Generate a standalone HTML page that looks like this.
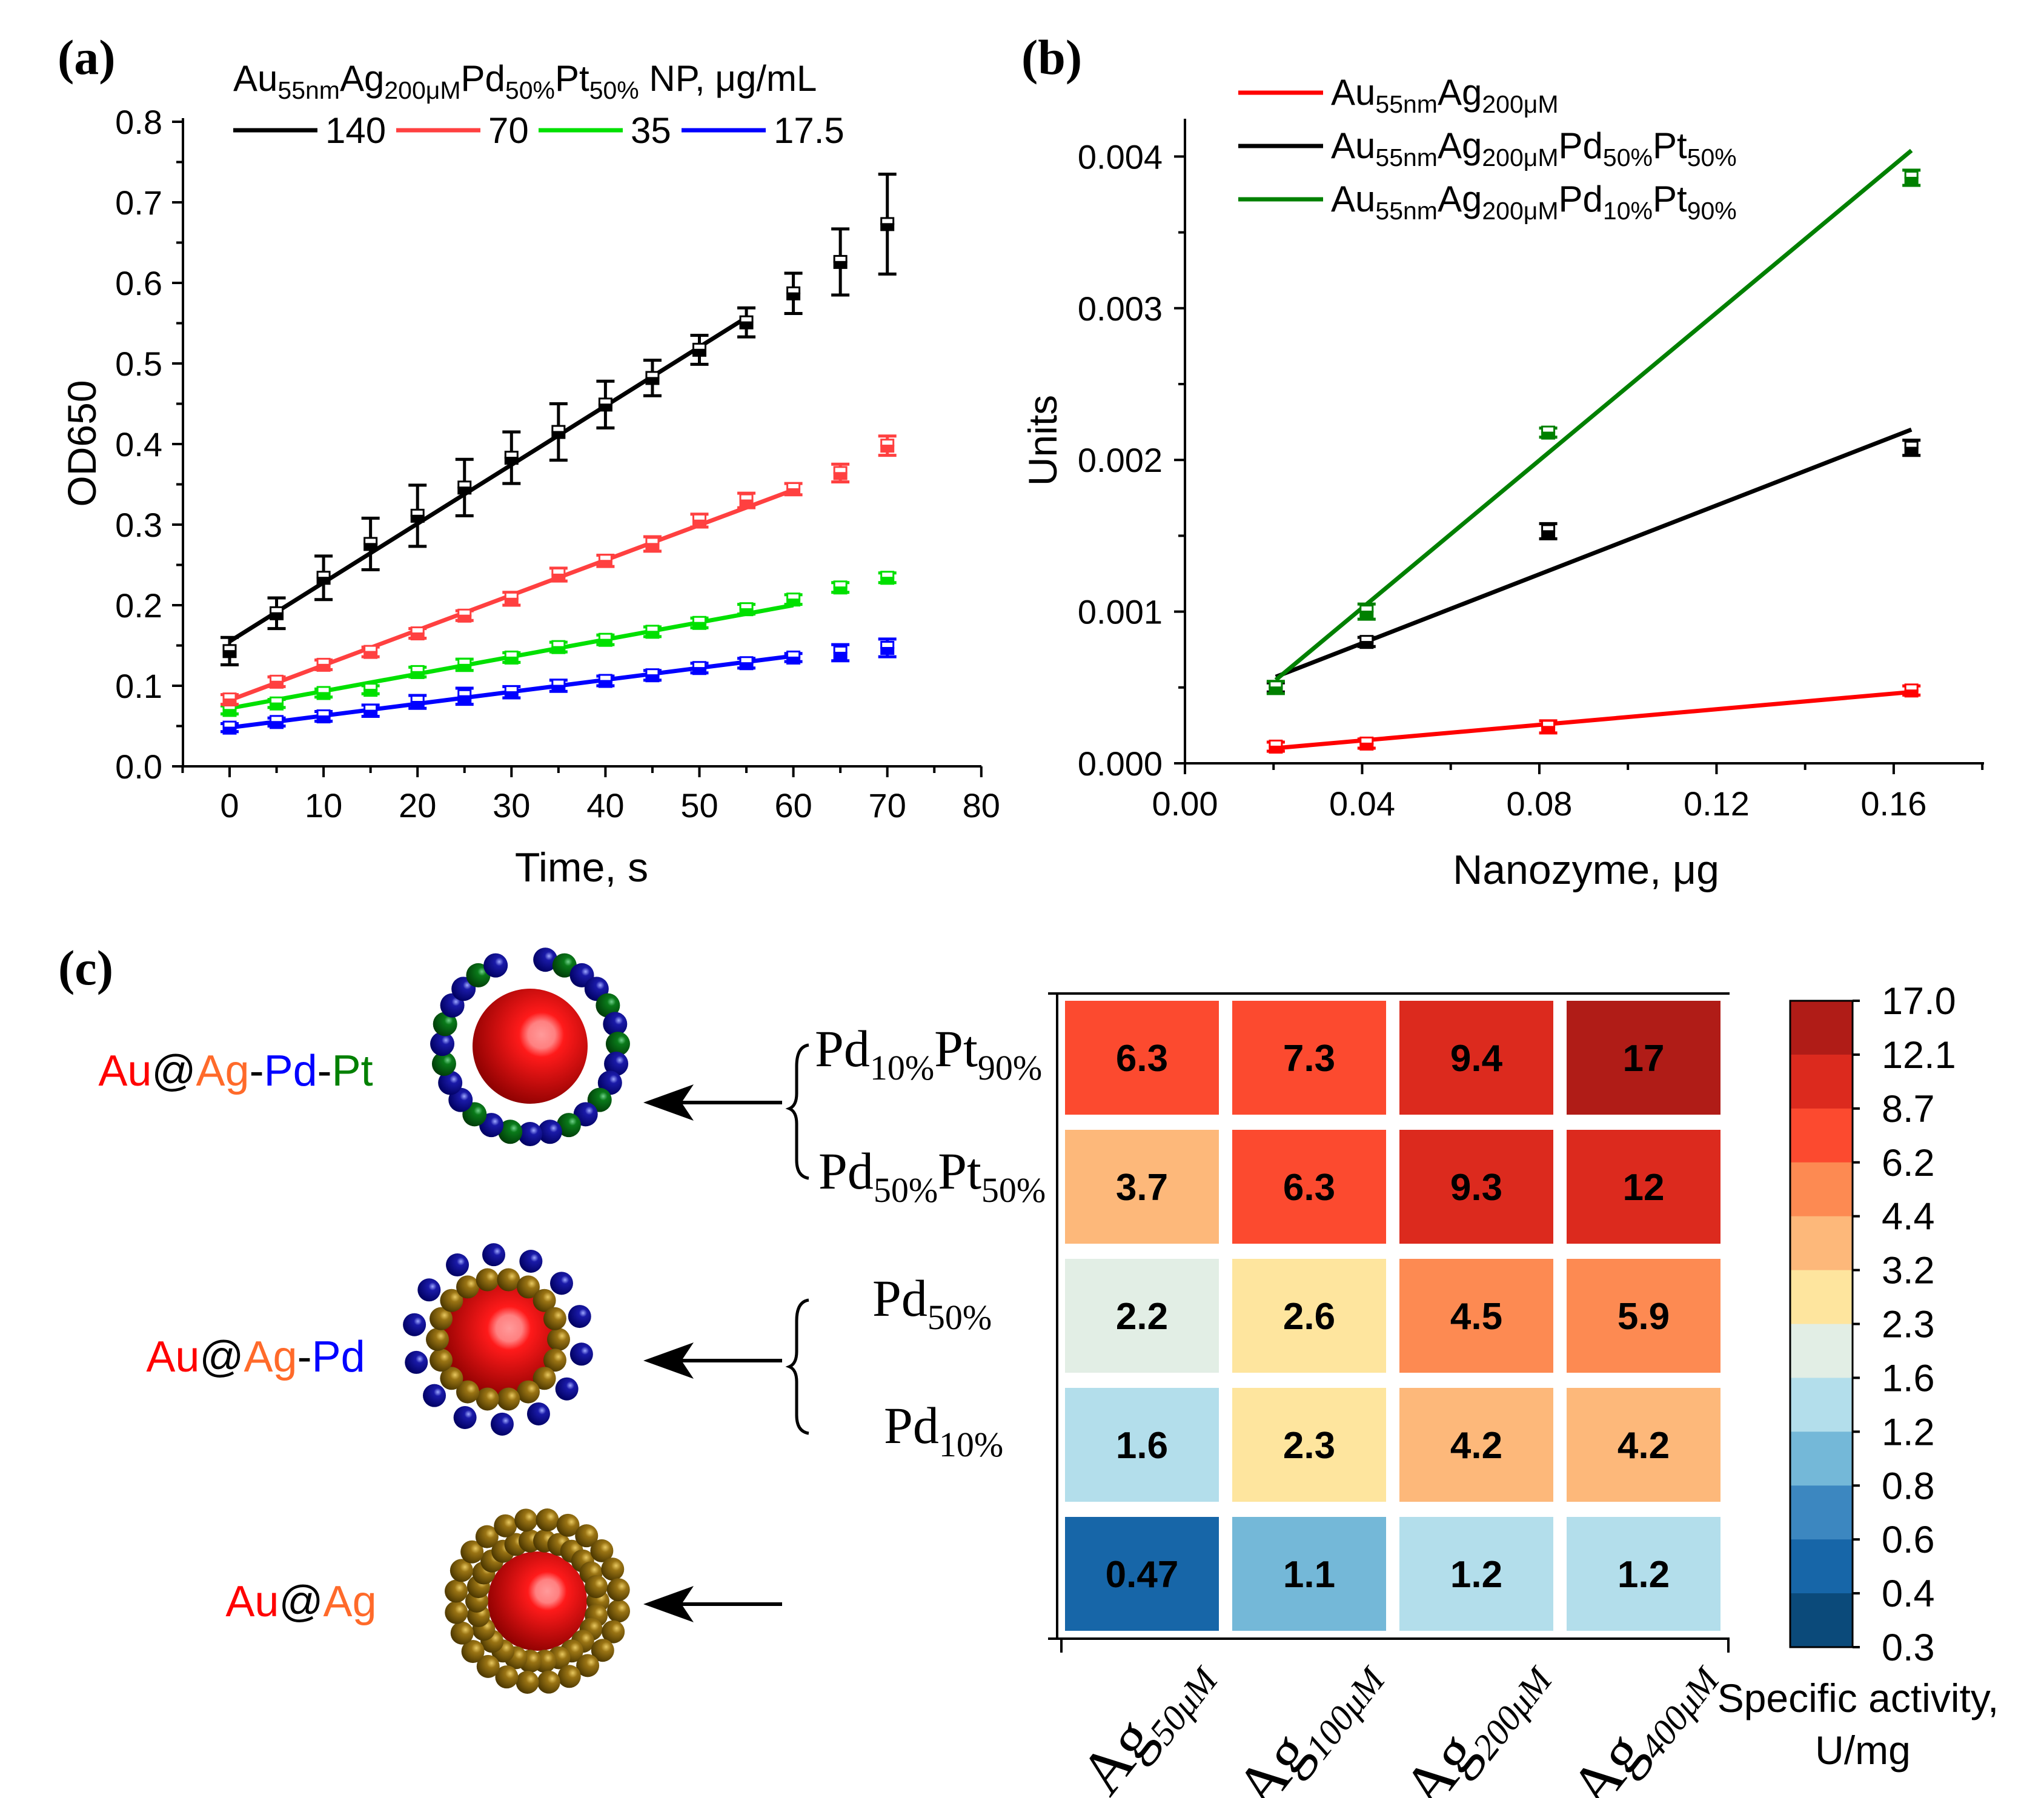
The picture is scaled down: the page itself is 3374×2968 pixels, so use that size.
<!DOCTYPE html>
<html><head><meta charset="utf-8"><style>
html,body{margin:0;padding:0;background:#fff;}
svg{display:block;font-family:"Liberation Sans",sans-serif;}
.serif{font-family:"Liberation Serif",serif;}
</style></head><body>
<svg id="fig" width="3374" height="2968" viewBox="0 0 3374 2968" xmlns="http://www.w3.org/2000/svg">
<defs>
<radialGradient id="gRed" cx="0.6" cy="0.4" r="0.65"><stop offset="0" stop-color="#ff9a9a"/><stop offset="0.18" stop-color="#ff8080"/><stop offset="0.3" stop-color="#ff1a1a"/><stop offset="1" stop-color="#8a0000"/></radialGradient>
<radialGradient id="gBlue" cx="0.65" cy="0.35" r="0.7"><stop offset="0" stop-color="#9ea8ff"/><stop offset="0.25" stop-color="#1a1aa8"/><stop offset="1" stop-color="#000060"/></radialGradient>
<radialGradient id="gGreen" cx="0.65" cy="0.35" r="0.7"><stop offset="0" stop-color="#6fd08a"/><stop offset="0.25" stop-color="#0a7a1a"/><stop offset="1" stop-color="#003a08"/></radialGradient>
<radialGradient id="gGold" cx="0.65" cy="0.35" r="0.7"><stop offset="0" stop-color="#e8c860"/><stop offset="0.3" stop-color="#9a7414"/><stop offset="1" stop-color="#4a3600"/></radialGradient>
</defs>

<text class="serif" x="95" y="122" font-size="82" font-weight="bold">(a)</text>
<text class="serif" x="1686" y="122" font-size="82" font-weight="bold">(b)</text>
<text class="serif" x="96" y="1625" font-size="82" font-weight="bold">(c)</text>

<g id="panelA">
<text x="385" y="150" font-size="60">Au<tspan font-size="41" dy="13">55nm</tspan><tspan dy="-13">Ag</tspan><tspan font-size="41" dy="13">200μM</tspan><tspan dy="-13">Pd</tspan><tspan font-size="41" dy="13">50%</tspan><tspan dy="-13">Pt</tspan><tspan font-size="41" dy="13">50%</tspan><tspan dy="-13"> NP, μg/mL</tspan></text>
<text x="135" y="732" font-size="66" text-anchor="middle" transform="rotate(-90 135 732)" dy="23">OD650</text>
<text x="960" y="1455" font-size="68" text-anchor="middle">Time, s</text>
</g>

<g id="panelB">
<text x="1721" y="727" font-size="66" text-anchor="middle" transform="rotate(-90 1721 727)" dy="23">Units</text>
<text x="2618" y="1459" font-size="68" text-anchor="middle">Nanozyme, μg</text>
<g>
<line x1="2044" y1="153" x2="2184" y2="153" stroke="#ff0000" stroke-width="7"/>
<text x="2197" y="173" font-size="60">Au<tspan font-size="41" dy="13">55nm</tspan><tspan dy="-13">Ag</tspan><tspan font-size="41" dy="13">200μM</tspan></text>
<line x1="2044" y1="241" x2="2184" y2="241" stroke="#000" stroke-width="7"/>
<text x="2197" y="261" font-size="60">Au<tspan font-size="41" dy="13">55nm</tspan><tspan dy="-13">Ag</tspan><tspan font-size="41" dy="13">200μM</tspan><tspan dy="-13">Pd</tspan><tspan font-size="41" dy="13">50%</tspan><tspan dy="-13">Pt</tspan><tspan font-size="41" dy="13">50%</tspan></text>
<line x1="2044" y1="329" x2="2184" y2="329" stroke="#008000" stroke-width="7"/>
<text x="2197" y="349" font-size="60">Au<tspan font-size="41" dy="13">55nm</tspan><tspan dy="-13">Ag</tspan><tspan font-size="41" dy="13">200μM</tspan><tspan dy="-13">Pd</tspan><tspan font-size="41" dy="13">10%</tspan><tspan dy="-13">Pt</tspan><tspan font-size="41" dy="13">90%</tspan></text>
</g>
</g>

<g id="particles"></g>
<g font-size="72">
<text x="389" y="1792" text-anchor="middle"><tspan fill="#ff0000">Au</tspan><tspan fill="#000">@</tspan><tspan fill="#ff6a2a">Ag</tspan><tspan fill="#000">-</tspan><tspan fill="#0000ff">Pd</tspan><tspan fill="#000">-</tspan><tspan fill="#008000">Pt</tspan></text>
<text x="422" y="2264" text-anchor="middle"><tspan fill="#ff0000">Au</tspan><tspan fill="#000">@</tspan><tspan fill="#ff6a2a">Ag</tspan><tspan fill="#000">-</tspan><tspan fill="#0000ff">Pd</tspan></text>
<text x="497" y="2668" text-anchor="middle"><tspan fill="#ff0000">Au</tspan><tspan fill="#000">@</tspan><tspan fill="#ff6a2a">Ag</tspan></text>
</g>
<g>
<line x1="1291" y1="1820" x2="1110" y2="1820" stroke="#000" stroke-width="6"/><path d="M1062 1820 L1145 1790 L1125 1820 L1145 1850 Z" fill="#000"/>
<line x1="1291" y1="2246" x2="1110" y2="2246" stroke="#000" stroke-width="6"/><path d="M1062 2246 L1145 2216 L1125 2246 L1145 2276 Z" fill="#000"/>
<line x1="1291" y1="2648" x2="1110" y2="2648" stroke="#000" stroke-width="6"/><path d="M1062 2648 L1145 2618 L1125 2648 L1145 2678 Z" fill="#000"/>
</g>
<g fill="none" stroke="#000" stroke-width="5">
<path d="M1335 1725 Q1315 1728 1315 1760 L1315 1805 Q1315 1825 1303 1830 Q1315 1835 1315 1855 L1315 1915 Q1315 1942 1335 1945"/>
<path d="M1335 2146 Q1315 2149 1315 2180 L1315 2231 Q1315 2251 1303 2256 Q1315 2261 1315 2281 L1315 2336 Q1315 2363 1335 2366"/>
</g>
<g class="serif" font-size="86">
<text x="1345" y="1760">Pd<tspan font-size="58" dy="22">10%</tspan><tspan dy="-22">Pt</tspan><tspan font-size="58" dy="22">90%</tspan></text>
<text x="1351" y="1962">Pd<tspan font-size="58" dy="22">50%</tspan><tspan dy="-22">Pt</tspan><tspan font-size="58" dy="22">50%</tspan></text>
<text x="1440" y="2172">Pd<tspan font-size="58" dy="22">50%</tspan></text>
<text x="1459" y="2382">Pd<tspan font-size="58" dy="22">10%</tspan></text>
</g>
<g id="heatmap"></g>
<text x="3067" y="2826" font-size="66" text-anchor="middle">Specific activity,</text>
<text x="3075" y="2912" font-size="66" text-anchor="middle">U/mg</text>
</svg>
<script>
const timeA = [0,5,10,15,20,25,30,35,40,45,50,55,60,65,70];
const od140 = [0.143,0.19,0.234,0.276,0.311,0.346,0.383,0.415,0.449,0.482,0.517,0.551,0.587,0.626,0.673];
const err140 = [0.017,0.019,0.027,0.032,0.038,0.035,0.032,0.035,0.029,0.022,0.018,0.018,0.025,0.041,0.062];
const od70 = [0.083,0.105,0.126,0.142,0.165,0.187,0.208,0.238,0.255,0.276,0.305,0.33,0.344,0.364,0.398];
const err70 = [0.006,0.006,0.006,0.006,0.006,0.006,0.008,0.008,0.007,0.009,0.008,0.009,0.007,0.011,0.012];
const od35 = [0.07,0.078,0.091,0.095,0.117,0.126,0.135,0.148,0.157,0.167,0.178,0.195,0.207,0.222,0.234];
const err35 = [0.005,0.005,0.005,0.005,0.006,0.007,0.006,0.006,0.006,0.006,0.006,0.006,0.006,0.006,0.006];
const od17 = [0.048,0.055,0.062,0.069,0.08,0.087,0.092,0.1,0.106,0.113,0.122,0.128,0.135,0.141,0.147];
const err17 = [0.005,0.005,0.006,0.007,0.008,0.01,0.007,0.007,0.006,0.006,0.006,0.006,0.005,0.01,0.011];
const fit140 = [[0,0.155],[55,0.557]];
const fit70 = [[0,0.082],[60,0.343]];
const fit35 = [[0,0.072],[60,0.2]];
const fit17 = [[0,0.048],[60,0.137]];
const yTicksA = [0,0.1,0.2,0.3,0.4,0.5,0.6,0.7,0.8];
const xTicksA = [0,10,20,30,40,50,60,70,80];
const legendA = ["140","70","35","17.5"];

const massB = [0.0205,0.041,0.082,0.164];
const unitsAuAg = [0.00011,0.00013,0.00024,0.00048];
const errAuAg = [0.00003,0.00003,0.00004,0.00003];
const unitsPd50 = [0.0005,0.0008,0.00153,0.00208];
const errPd50 = [0.00003,0.00003,0.00005,0.00005];
const unitsPd10 = [0.0005,0.001,0.00218,0.00386];
const errPd10 = [0.00004,0.00005,0.00003,0.00005];
const fitAuAg = [[0.0205,0.0001],[0.164,0.00047]];
const fitPd50 = [[0.0205,0.00057],[0.164,0.0022]];
const fitPd10 = [[0.0205,0.00055],[0.164,0.00404]];
const yTicksB = [0,0.001,0.002,0.003,0.004];
const xTicksB = [0,0.04,0.08,0.12,0.16];

const heatCols = ["50μM","100μM","200μM","400μM"];
const heatRows = ["Pd10%Pt90%","Pd50%Pt50%","Pd50%","Pd10%","none"];
const heatVals = [[6.3,7.3,9.4,17],[3.7,6.3,9.3,12],[2.2,2.6,4.5,5.9],[1.58,2.3,4.2,4.2],[0.47,1.1,1.2,1.2]];
const heatLabels = [["6.3","7.3","9.4","17"],["3.7","6.3","9.3","12"],["2.2","2.6","4.5","5.9"],["1.6","2.3","4.2","4.2"],["0.47","1.1","1.2","1.2"]];
const cbBounds = [17.0,12.1,8.7,6.2,4.4,3.2,2.3,1.6,1.2,0.8,0.6,0.4,0.3];
const cbColors = ["#b01c17","#dc2a1e","#fc4a2f","#fd8a52","#fdb87a","#fee59e","#e2eee5","#b3deeb","#74b8d8","#3c87c0","#1766a8","#0b4a7a"];

const NS="http://www.w3.org/2000/svg";
const svg=document.getElementById('fig');
function mk(tag,attrs,parent){const e=document.createElementNS(NS,tag);for(const k in attrs)e.setAttribute(k,attrs[k]);(parent||svg).appendChild(e);return e;}

const gA=document.getElementById('panelA');
const xA=t=>379+(t)*15.51;
const yA=v=>1265-v*1330;
let ax=mk('line',{x1:302,y1:1265,x2:1620,y2:1265,stroke:'#000','stroke-width':4},gA);

ax=mk('line',{x1:302,y1:1265,x2:302,y2:195,stroke:'#000','stroke-width':4},gA);

for(let t=-5;t<=80;t+=5){mk('line',{x1:xA(t),y1:1265,x2:xA(t),y2:1265+(t%10===0?18:11),stroke:'#000','stroke-width':4},gA);}
for(let i=0;i<=16;i++){const v=i*0.05;mk('line',{x1:302,y1:yA(v),x2:302-(i%2===0?18:11),y2:yA(v),stroke:'#000','stroke-width':4},gA);}
yTicksA.forEach(v=>{const t=mk('text',{x:268,y:yA(v)+20,'font-size':56,'text-anchor':'end'},gA);t.textContent=v.toFixed(1);
});
xTicksA.forEach(v=>{const t=mk('text',{x:xA(v),y:1349,'font-size':56,'text-anchor':'middle'},gA);t.textContent=v;
});
function seriesA(vals,errs,fit,col,name){
  const g=mk('g',{},gA);
  
  mk('line',{x1:xA(fit[0][0]),y1:yA(fit[0][1]),x2:xA(fit[1][0]),y2:yA(fit[1][1]),stroke:col,'stroke-width':7},g);
  vals.forEach((v,i)=>{const x=xA(timeA[i]);const e=errs[i];
    mk('path',{d:`M${x} ${yA(v+e)}V${yA(v-e)}M${x-15} ${yA(v+e)}H${x+15}M${x-15} ${yA(v-e)}H${x+15}`,stroke:col,'stroke-width':5,fill:'none'},g);
    mk('rect',{x:x-10,y:yA(v)-10,width:20,height:10,fill:'#fff',stroke:col,'stroke-width':3},g);
    const m=mk('rect',{x:x-10,y:yA(v),width:20,height:10,fill:col,stroke:col,'stroke-width':3},g);
    
  });
}
seriesA(od17,err17,fit17,'#0000ff','17.5');
seriesA(od35,err35,fit35,'#00e000','35');
seriesA(od70,err70,fit70,'#ff4040','70');
seriesA(od140,err140,fit140,'#000000','140');
const legX=[385,654,889,1125];const legC=['#000','#ff4040','#00e000','#0000ff'];
legendA.forEach((l,i)=>{const g=mk('g',{},gA);
  mk('line',{x1:legX[i],y1:215,x2:legX[i]+139,y2:215,stroke:legC[i],'stroke-width':7},g);
  const t=mk('text',{x:legX[i]+152,y:236,'font-size':60},g);t.textContent=l;});

const gB=document.getElementById('panelB');
const xB=m=>1956+m*7312;
const yB=u=>1260-u*250400;
ax=mk('line',{x1:1956,y1:1260,x2:3275,y2:1260,stroke:'#000','stroke-width':4},gB);

ax=mk('line',{x1:1956,y1:1260,x2:1956,y2:196,stroke:'#000','stroke-width':4},gB);

for(let i=0;i<=9;i++){const m=i*0.02;mk('line',{x1:xB(m),y1:1260,x2:xB(m),y2:1260+(i%2===0?18:11),stroke:'#000','stroke-width':4},gB);}
for(let i=0;i<=8;i++){const u=i*0.0005;mk('line',{x1:1956,y1:yB(u),x2:1956-(i%2===0?18:11),y2:yB(u),stroke:'#000','stroke-width':4},gB);}
yTicksB.forEach(v=>{const t=mk('text',{x:1919,y:yB(v)+20,'font-size':56,'text-anchor':'end'},gB);t.textContent=v.toFixed(3);
});
xTicksB.forEach(v=>{const t=mk('text',{x:xB(v),y:1346,'font-size':56,'text-anchor':'middle'},gB);t.textContent=v.toFixed(2);
});
function seriesB(vals,errs,fit,col,name){
  const g=mk('g',{},gB);
  
  mk('line',{x1:xB(fit[0][0]),y1:yB(fit[0][1]),x2:xB(fit[1][0]),y2:yB(fit[1][1]),stroke:col,'stroke-width':7},g);
  vals.forEach((v,i)=>{const x=xB(massB[i]);const e=errs[i];
    mk('path',{d:`M${x} ${yB(v+e)}V${yB(v-e)}M${x-15} ${yB(v+e)}H${x+15}M${x-15} ${yB(v-e)}H${x+15}`,stroke:col,'stroke-width':5,fill:'none'},g);
    mk('rect',{x:x-10,y:yB(v)-10,width:20,height:10,fill:'#fff',stroke:col,'stroke-width':3},g);
    const m=mk('rect',{x:x-10,y:yB(v),width:20,height:10,fill:col,stroke:col,'stroke-width':3},g);
    
  });
}
seriesB(unitsAuAg,errAuAg,fitAuAg,'#ff0000','auag');
seriesB(unitsPd50,errPd50,fitPd50,'#000000','pd50pt50');
seriesB(unitsPd10,errPd10,fitPd10,'#008000','pd10pt90');

const gH=document.getElementById('heatmap');
const colX=c=>1758+c*276;const rowY=r=>1652+r*213;const cw=254,ch=188;
function binColor(v){for(let i=0;i<cbColors.length;i++){if(v>=cbBounds[i+1])return cbColors[i];}return cbColors[cbColors.length-1];}
heatVals.forEach((row,r)=>row.forEach((v,c)=>{
  const cell=mk('rect',{x:colX(c),y:rowY(r),width:cw,height:ch,fill:binColor(v)},gH);
  
  const t=mk('text',{x:colX(c)+cw/2,y:rowY(r)+ch/2+22,'font-size':62,'font-weight':'bold','text-anchor':'middle'},gH);
  t.textContent=heatLabels[r][c];
  
}));
mk('path',{d:'M1745 1640V2705H2855M1730 1640H2855M1730 2705H1745M1752 2705V2728M2853 2705V2728',stroke:'#000','stroke-width':4,fill:'none'},gH);
heatCols.forEach((c,i)=>{const cx=colX(i)+cw/2+110,cy=2760;
  const t=mk('text',{x:cx,y:cy,'font-size':102,'text-anchor':'end',transform:`rotate(-52 ${cx} ${cy})`,'font-family':'"Liberation Serif",serif'},gH);
  
  const a=document.createElementNS(NS,'tspan');a.textContent='Ag';t.appendChild(a);
  const s=document.createElementNS(NS,'tspan');s.setAttribute('font-size','60');s.setAttribute('font-style','italic');s.setAttribute('dy','22');s.textContent=c;t.appendChild(s);
});
const cbTop=1652,cbBot=2719,cbL=2955,cbW=103;const bh=(cbBot-cbTop)/cbColors.length;
cbColors.forEach((col,i)=>{const r=mk('rect',{x:cbL,y:cbTop+i*bh,width:cbW,height:bh+0.5,fill:col},gH);
  });
mk('rect',{x:cbL,y:cbTop,width:cbW,height:cbBot-cbTop,fill:'none',stroke:'#000','stroke-width':3},gH);
cbBounds.forEach((b,i)=>{const y=cbTop+i*bh;mk('line',{x1:cbL+cbW,y1:y,x2:cbL+cbW+12,y2:y,stroke:'#000','stroke-width':4},gH);
  const t=mk('text',{x:3106,y:y+22,'font-size':63},gH);t.textContent=b.toFixed(1);
  });

const gP=document.getElementById('particles');
function sat(x,y,r,fill){mk('circle',{cx:x,cy:y,r:r,fill:fill},gP);}
function ring(cx,cy,R,n,start,span,fills,r){for(let i=0;i<n;i++){const a=(start+span*i/n)*Math.PI/180;sat(cx+R*Math.cos(a),cy+R*Math.sin(a),r,fills[i%fills.length]);}}
ring(875,1727,145,26,-80,340,['url(#gBlue)','url(#gGreen)','url(#gBlue)','url(#gBlue)','url(#gGreen)'],20);
mk('circle',{cx:875,cy:1727,r:95,fill:'url(#gRed)'},gP);
mk('circle',{cx:822,cy:2211,r:92,fill:'url(#gRed)'},gP);
ring(822,2211,100,18,0,360,['url(#gGold)'],19);
ring(822,2211,140,14,10,360,['url(#gBlue)'],19);
mk('circle',{cx:887,cy:2643,r:82,fill:'url(#gRed)'},gP);
ring(887,2643,100,26,0,360,['url(#gGold)'],19);
ring(887,2643,135,24,7,360,['url(#gGold)'],19);
</script>
</body></html>
